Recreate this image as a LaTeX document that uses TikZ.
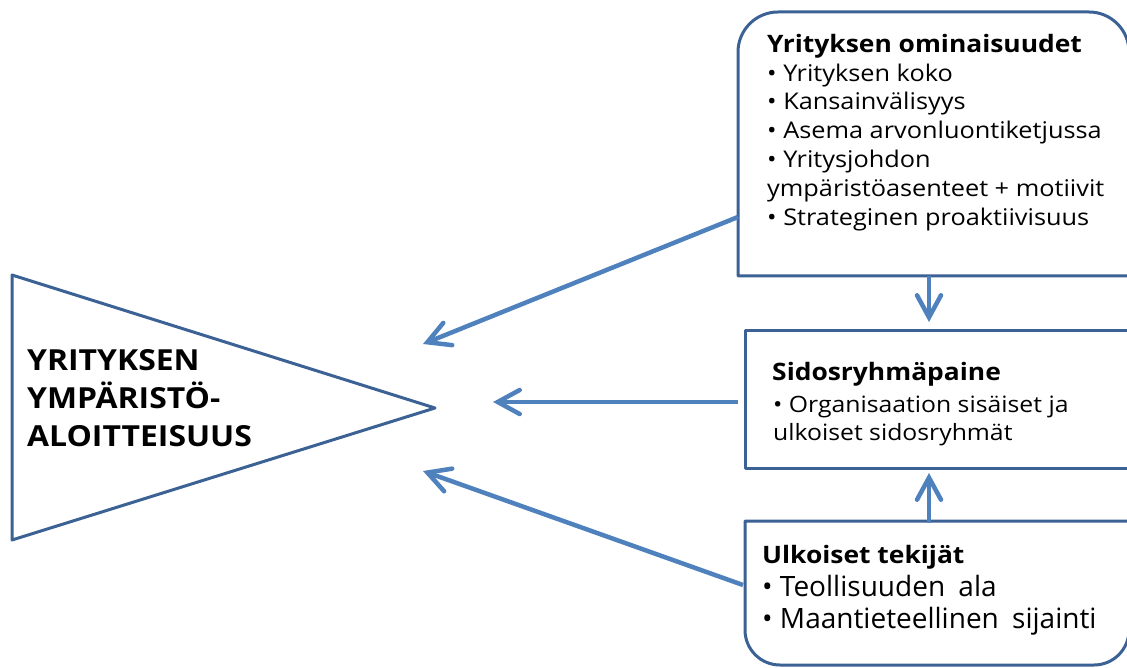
\documentclass[tikz,border=0pt]{standalone}
\usepackage{fontspec}
\setmainfont{Open Sans}
\newfontfamily\wideA[FakeStretch=1.1]{Open Sans}
\usetikzlibrary{arrows.meta}
\definecolor{boxblue}{HTML}{3B6195}
\definecolor{arrblue}{HTML}{4F81BD}
\tikzset{
  boxline/.style={draw=boxblue, line width=3pt, line join=round},
  conn/.style={draw=arrblue, line width=4.5pt, -{Straight Barb[length=22pt,width=24pt,line cap=round]}},
  txt/.style={anchor=base west, inner sep=0pt, font=\wideA\fontsize{23}{28}\selectfont},
  hdr/.style={anchor=base west, inner sep=0pt, font=\wideA\fontsize{24}{28}\selectfont\bfseries},
  txtm/.style={anchor=base west, inner sep=0pt, font=\wideA\fontsize{22.5}{28}\selectfont},
  hdrm/.style={anchor=base west, inner sep=0pt, font=\wideA\fontsize{24}{28}\selectfont\bfseries},
  txtb/.style={anchor=base west, inner sep=0pt, font=\fontsize{28}{30}\selectfont},
  hdrb/.style={anchor=base west, inner sep=0pt, font=\wideA\fontsize{24}{30}\selectfont\bfseries},
  tri/.style={anchor=base west, inner sep=0pt, font=\wideA\fontsize{29}{36}\selectfont\bfseries},
}
\begin{document}
\begin{tikzpicture}[x=1pt,y=-1pt]
\useasboundingbox (0,0) rectangle (1127,668);
% triangle
\draw[boxline] (12,275) -- (12,540) -- (435,408) -- cycle;
\node[tri] (y1) at (27,370) {YRITYKSEN};
\node[tri] (y2) at (27,408) {YMPÄRISTÖ-};
\node[tri] (y3) at (27,446) {ALOITTEISUUS};
% top box
\draw[boxline] (738,276) [rounded corners=40pt] -- (738,12) -- (1129,12) [sharp corners] -- (1129,276) -- cycle;
\node[hdr] (a0) at (767,53) {Yrityksen ominaisuudet};
\node[txt] (a1) at (767,82) {• Yrityksen koko};
\node[txt] (a2) at (767,110) {• Kansainvälisyys};
\node[txt] (a3) at (767,139) {• Asema arvonluontiketjussa};
\node[txt] (a4) at (767,168) {• Yritysjohdon};
\node[txt] (a5) at (767,197) {ympäristöasenteet + motiivit};
\node[txt] (a6) at (767,226) {• Strateginen proaktiivisuus};
% middle box
\draw[boxline] (745,330) rectangle (1129,468);
\node[hdrm] (b0) at (772,380) {Sidosryhmäpaine};
\node[txtm] (b1) at (773,412) {• Organisaation sisäiset ja};
\node[txtm] (b2) at (773,440) {ulkoiset sidosryhmät};
% bottom box
\draw[boxline] (1129,521) -- (745,521) [rounded corners=35pt] -- (745,665) -- (1129,665) [sharp corners] -- (1129,521);
\node[hdrb] (c0) at (762,563) {Ulkoiset tekijät};
\node[txtb] (c1) at (762,596) {• Teollisuuden\hspace{6pt} ala};
\node[txtb] (c2) at (762,628) {• Maantieteellinen\hspace{6pt} sijainti};
% connector coordinates
\coordinate (s1) at (738,217);
\coordinate (e1) at (423,344);
\coordinate (s2) at (738,402);
\coordinate (e2) at (493,402);
\coordinate (s3) at (743,585);
\coordinate (e3) at (423,471);
\coordinate (s4) at (929,276);
\coordinate (e4) at (929,322);
\coordinate (s5) at (929,523);
\coordinate (e5) at (929,473);
\draw[conn] (s1) -- (e1);
\draw[conn] (s2) -- (e2);
\draw[conn] (s3) -- (e3);
\draw[conn] (s4) -- (e4);
\draw[conn] (s5) -- (e5);
\end{tikzpicture}
\end{document}
